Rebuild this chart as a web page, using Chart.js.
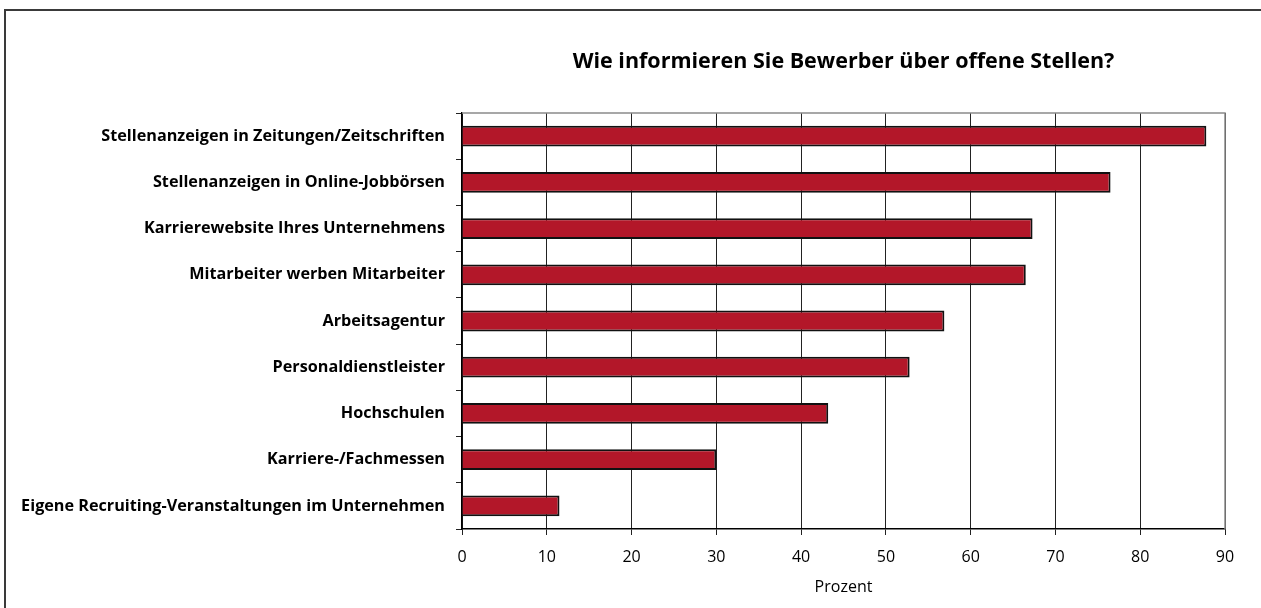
<!DOCTYPE html>
<html>
<head>
<meta charset="utf-8">
<script src="https://cdn.jsdelivr.net/npm/chart.js@4"></script>
<style>
  html, body { margin: 0; padding: 0; background: #fff; overflow: hidden; }
  #wrap { position: relative; width: 1261px; height: 608px; }
  #frame { position: absolute; left: 4px; top: 9px; width: 1300px; height: 700px;
           border-left: 2px solid #3a3a3a; border-top: 2px solid #3a3a3a; }
  canvas { position: absolute; left: 0; top: 0; }
</style>
</head>
<body>
<div id="wrap">
  <div id="frame"></div>
  <canvas id="c" width="1261" height="608"></canvas>
</div>
<script>
const chartTitle = 'Wie informieren Sie Bewerber über offene Stellen?';
const axisTitle = 'Prozent';
const categories = [
  'Stellenanzeigen in Zeitungen/Zeitschriften',
  'Stellenanzeigen in Online-Jobbörsen',
  'Karrierewebsite Ihres Unternehmens',
  'Mitarbeiter werben Mitarbeiter',
  'Arbeitsagentur',
  'Personaldienstleister',
  'Hochschulen',
  'Karriere-/Fachmessen',
  'Eigene Recruiting-Veranstaltungen im Unternehmen'
];
const values = [87.8, 76.5, 67.3, 66.5, 56.9, 52.8, 43.2, 30.0, 11.5];
const xTicks = [0, 10, 20, 30, 40, 50, 60, 70, 80, 90];

const titlePlugin = {
  id: 'centerTitle',
  afterDraw(chart) {
    const ctx = chart.ctx, a = chart.chartArea;
    ctx.save();
    ctx.strokeStyle = '#8a8a8a';
    ctx.lineWidth = 1.5;
    ctx.beginPath();
    ctx.moveTo(a.left, a.top);
    ctx.lineTo(a.right, a.top);
    ctx.lineTo(a.right, a.bottom);
    ctx.stroke();
    ctx.font = 'bold 21.5px "Open Sans"';
    ctx.fillStyle = '#000';
    ctx.textAlign = 'center';
    ctx.textBaseline = 'middle';
    ctx.fillText(chartTitle, (a.left + a.right) / 2, 62);
    ctx.restore();
  }
};

new Chart(document.getElementById('c'), {
  type: 'bar',
  data: {
    labels: categories,
    datasets: [{
      data: values,
      backgroundColor: '#b31729',
      borderColor: '#111',
      borderWidth: 2,
      barPercentage: 0.45,
      categoryPercentage: 1.0
    }]
  },
  options: {
    indexAxis: 'y',
    responsive: false,
    animation: false,
    layout: { padding: { left: 0, right: 36, top: 113, bottom: 0 } },
    plugins: { legend: { display: false }, tooltip: { enabled: false }, title: { display: false } },
    scales: {
      x: {
        min: 0, max: 90,
        afterBuildTicks(scale) { scale.ticks = xTicks.map(v => ({ value: v })); },
        afterFit(scale) { scale.height = 79; },
        ticks: { color: '#000', font: { family: '"Open Sans"', size: 16 }, padding: 13 },
        grid: { color: '#222', lineWidth: 1, tickLength: 6, drawOnChartArea: true },
        border: { color: '#000', width: 1.5 },
        title: { display: true, text: axisTitle, color: '#000',
                 font: { family: '"Open Sans"', size: 16 }, padding: { top: 0, bottom: 11 } }
      },
      y: {
        afterFit(scale) { scale.width = 462; },
        ticks: { color: '#000', font: { family: '"Open Sans"', size: 16.2, weight: 'bold' }, padding: 11 },
        grid: { drawOnChartArea: false, tickLength: 6, color: '#222', offset: true },
        border: { color: '#000', width: 1.5 }
      }
    }
  },
  plugins: [titlePlugin]
});
</script>
</body>
</html>
